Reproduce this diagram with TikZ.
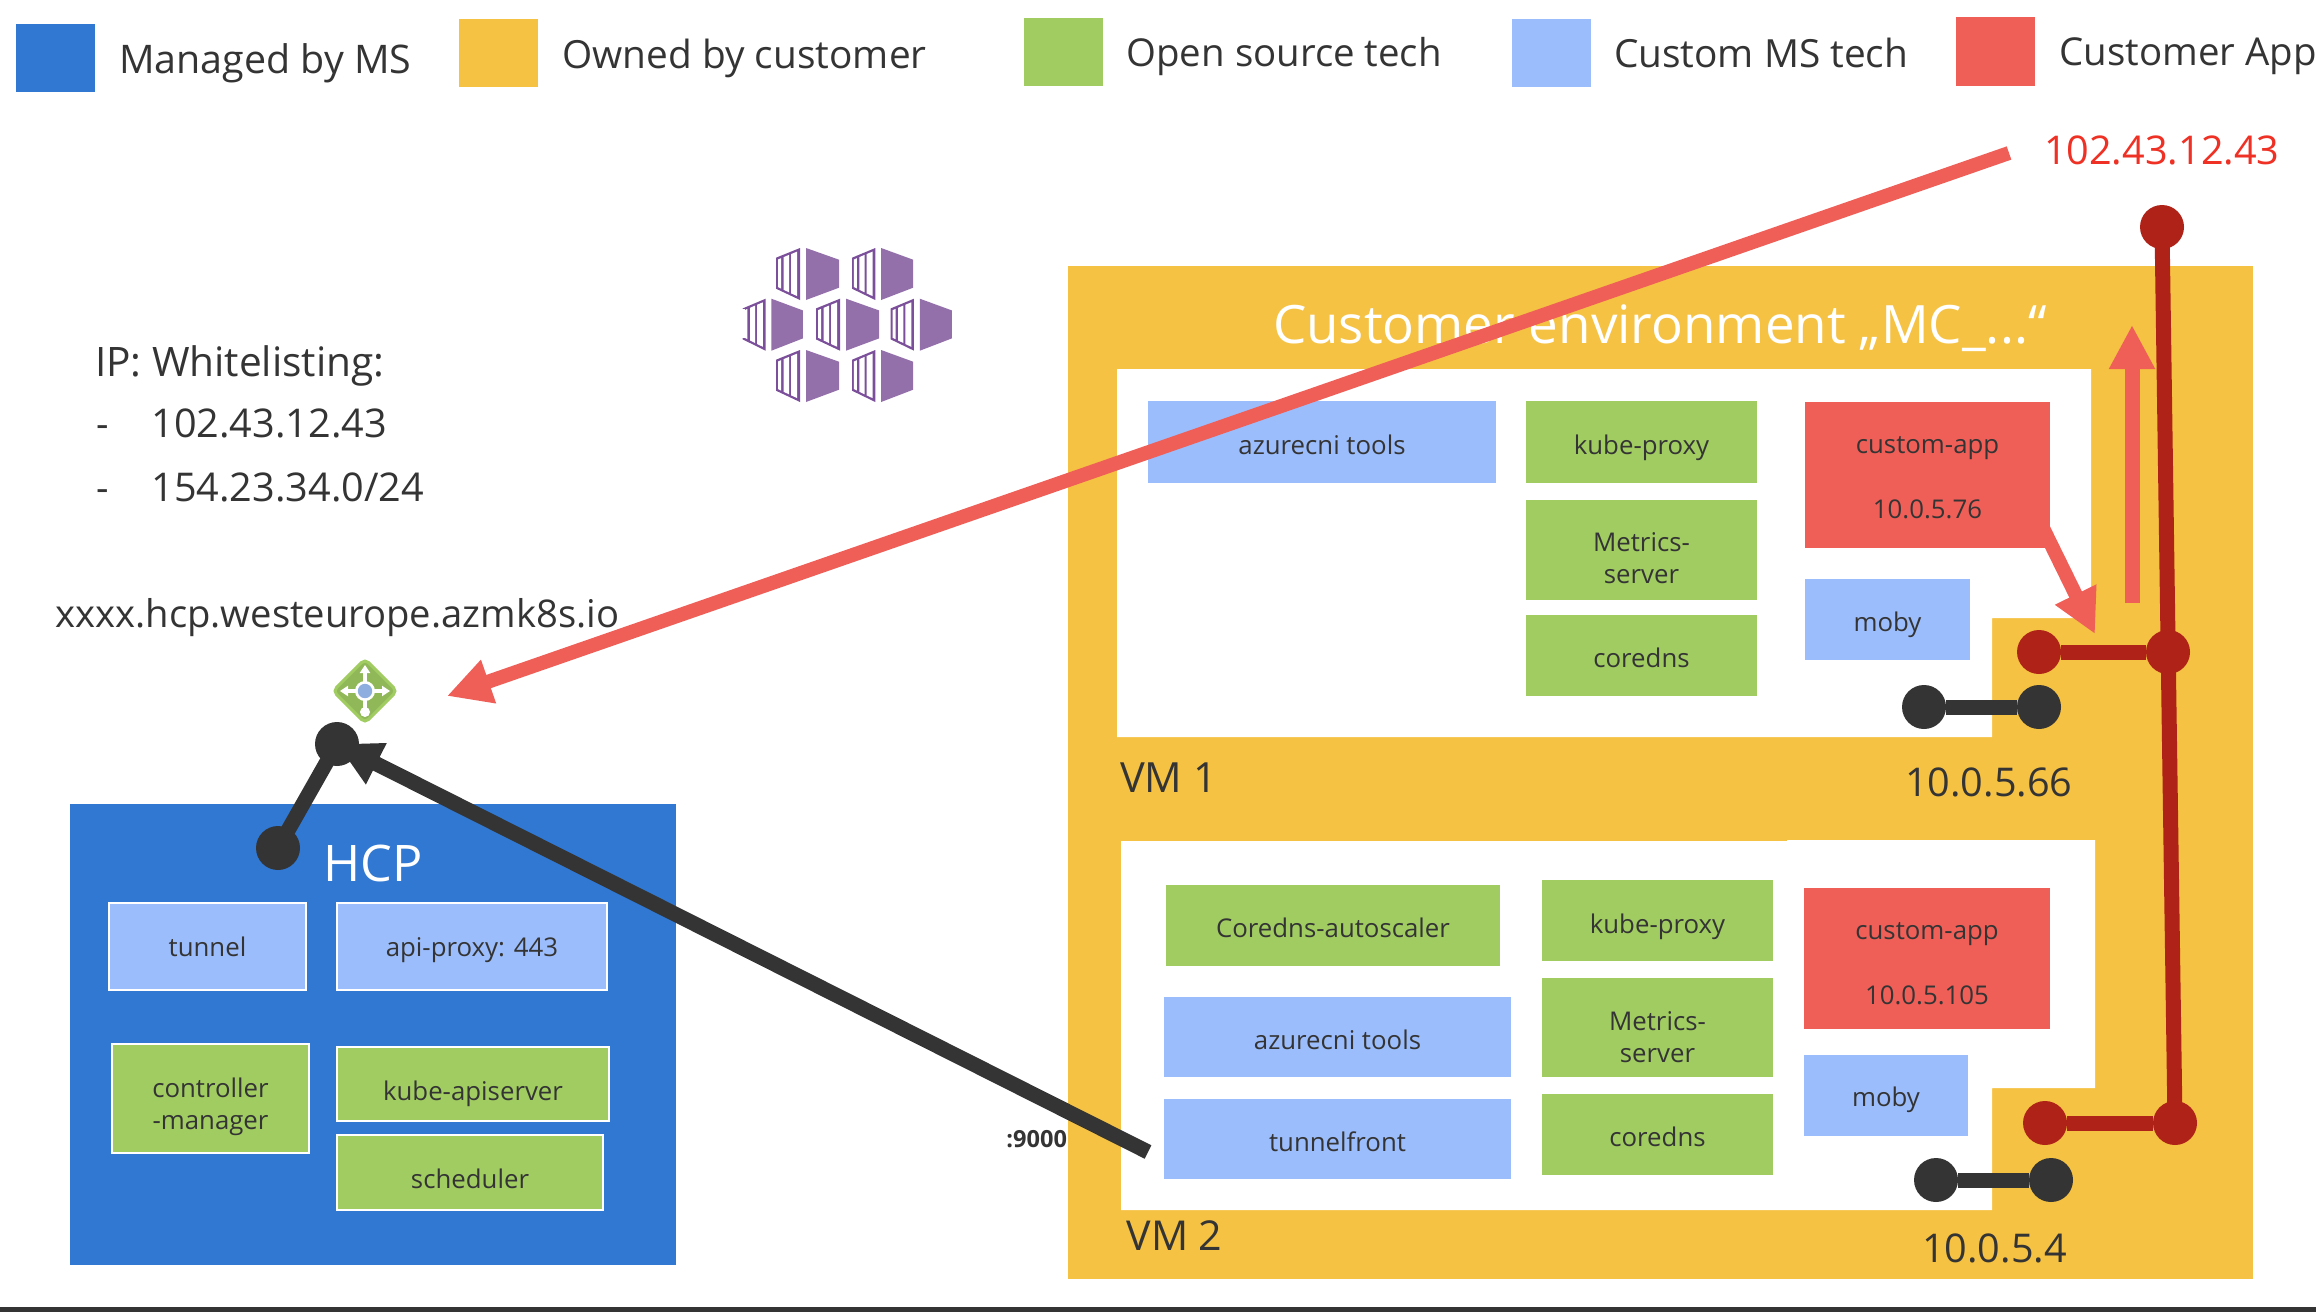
\documentclass[tikz,border=0pt]{standalone}
\usepackage{fontspec}
\setmainfont{Open Sans}
\usetikzlibrary{arrows.meta}
\definecolor{msblue}{HTML}{3078D2}
\definecolor{ownorange}{HTML}{F5C243}
\definecolor{osgreen}{HTML}{A1CC62}
\definecolor{custblue}{HTML}{9CBDFB}
\definecolor{appred}{HTML}{EF5F58}
\definecolor{deepred}{HTML}{AF2218}
\definecolor{inkdark}{HTML}{343434}
\definecolor{ipred}{HTML}{EE3124}
\definecolor{kpurple}{HTML}{9470AA}
\definecolor{kframe}{HTML}{7B4F9A}
\tikzset{
  boxnode/.style={draw=white,line width=0.6pt,inner sep=0pt,outer sep=0pt,align=center,text=inkdark,
     font=\fontsize{12.9}{16}\selectfont},
  legendbox/.style={inner sep=0pt,outer sep=0pt},
  sz/.style={font=\fontsize{#1}{22}\selectfont},
  txt/.style={anchor=base west,inner sep=0pt,outer sep=0pt,text=inkdark,sz=19.4},
  bigwhite/.style={anchor=base west,inner sep=0pt,outer sep=0pt,text=white,sz=25.2},
  dotred/.style={circle,fill=deepred,inner sep=0pt,outer sep=0pt,minimum size=22pt},
  dotdark/.style={circle,fill=inkdark,inner sep=0pt,outer sep=0pt,minimum size=22pt},
  wirered/.style={draw=deepred,line width=7.5pt},
  wiredark/.style={draw=inkdark,line width=7.5pt},
  arrowred/.style={draw=appred,line width=7pt,-{Triangle[length=22pt,width=21.5pt,fill=appred]}},
  arrowdark/.style={draw=inkdark,line width=7.5pt,-{Triangle[length=22pt,width=21.5pt,fill=inkdark]}},
  gatearrow/.style={draw=white,line width=1.7pt,-{Triangle[length=4pt,width=5pt]}},
  kubeunit/.pic={
    \fill[kpurple] (30,0)--(63,11.7)--(63,39.7)--(30,52)--cycle;
    \fill[kframe] (0,9.7)--(24,0)--(24,52)--(0,40.7)--cycle;
    \fill[white] (2,11.5)--(5,10.2)--(5,40.5)--(2,39)--cycle;
    \fill[white] (7.7,9.1)--(13,6.9)--(13,44.3)--(7.7,41.8)--cycle;
    \fill[white] (15,6.1)--(21.2,3.6)--(21.2,48.1)--(15,45.3)--cycle;
  }
}
\newcommand{\bx}[8]{%
  \node[boxnode,fill=#6,minimum width={(#4-#2)*0.5pt},
        text height={(#7-#3)*0.5pt},text depth={(#5-#7)*0.5pt}] (#1)
        at ({(#2+#4)/2},{(#3+#5)/2}) {#8};}
\newcommand{\lgbox}[6]{%
  \node[legendbox,fill=#6,minimum width={(#4-#2)*0.5pt},minimum height={(#5-#3)*0.5pt}] (#1)
        at ({(#2+#4)/2},{(#3+#5)/2}) {};}
\begin{document}
\begin{tikzpicture}[x=0.5pt,y=-0.5pt]
\useasboundingbox (0,0) rectangle (2316,1312);
\fill[white] (0,0) rectangle (2316,1312);
\fill[inkdark] (0,1307) rectangle (2316,1312);

% legend
\lgbox{lgA}{16}{24}{95}{92}{msblue}
\lgbox{lgB}{459}{19}{538}{87}{ownorange}
\lgbox{lgC}{1024}{18}{1103}{86}{osgreen}
\lgbox{lgD}{1512}{19}{1591}{87}{custblue}
\lgbox{lgE}{1956}{17}{2035}{86}{appred}
\node[txt,sz=19.7] (lgtA) at (119,73) {Managed by MS};
\node[txt] (lgtB) at (562.5,68) {Owned by customer};
\node[txt,sz=19.2] (lgtC) at (1126.5,66) {Open source tech};
\node[txt] (lgtD) at (1614,67) {Custom MS tech};
\node[txt,sz=19.2] (lgtE) at (2059.5,65) {Customer App};

% whitelist text
\node[txt,sz=20.3] (ipA) at (95,376) {IP: Whitelisting:};
\node[txt] (ipB) at (96,437) {-};
\node[txt,sz=19.8] (ipC) at (151.5,437) {102.43.12.43};
\node[txt] (ipD) at (96,501) {-};
\node[txt,sz=19.8] (ipE) at (151.5,501) {154.23.34.0/24};
\node[txt,sz=19.1] (hcpurl) at (55.5,627) {xxxx.hcp.westeurope.azmk8s.io};

% kubernetes icon
\foreach \ux/\uy/\us in {776/248/1,852/248/0.97,742.7/298.7/0.955,816/298.7/1,890.7/298.7/0.97,776/350/1,852/350/0.97}
  \pic[xscale=\us] at (\ux,\uy) {kubeunit};
\fill[white] (742,308.5) rectangle (745,338);

% gateway icon
\draw[fill=osgreen!90!black,draw=osgreen,line width=1.5pt,rounded corners=2.5pt]
   (365,659) -- (397,691) -- (365,723) -- (333,691) -- cycle;
\coordinate (gc) at (365,691);
\coordinate (gu) at (365,665);
\coordinate (gl) at (340,691);
\coordinate (gr) at (390,691);
\coordinate (gd) at (365,712);
\draw[gatearrow] (gc) -- (gu);
\draw[gatearrow] (gc) -- (gl);
\draw[gatearrow] (gc) -- (gr);
\draw[draw=white,line width=1.7pt] (gc) -- (gd);
\fill[white] (gd) circle (2.5pt);
\fill[white] (gc) circle (5pt);
\fill[fill=cyan!50!blue!45!white] (gc) circle (3.6pt);

% HCP
\node[legendbox,fill=msblue,minimum width=303.25pt,minimum height=230.5pt] (hcp) at (372.75,1034.5) {};
\node[bigwhite] (hcpt) at (323,881) {HCP};
\bx{tunnel}{109}{903}{306}{990}{custblue}{956}{tunnel}
\bx{apiproxy}{337}{903}{607}{990}{custblue}{956}{api-proxy: 443}
\bx{ctrl}{112}{1044}{309}{1153}{osgreen}{1129}{controller\\-manager}
\bx{apiserver}{337}{1047}{609}{1121}{osgreen}{1100}{kube-apiserver}
\bx{sched}{337}{1135}{603}{1210}{osgreen}{1188}{scheduler}

% customer environment
\node[legendbox,fill=ownorange,minimum width=592.5pt,minimum height=506.5pt] (env) at (1660.5,772.5) {};
\node[bigwhite,sz=26.45] (envt) at (1273,343) {Customer environment „MC\_...“};
\fill[white] (1117,369) -- (2091,369) -- (2091,618) -- (1992,618) -- (1992,737) -- (1117,737) -- cycle;
\fill[white] (1121,841) -- (1787,841) -- (1787,840) -- (2095,840) -- (2095,1088) -- (1992,1088) -- (1992,1210) -- (1121,1210) -- cycle;
\node[txt,sz=20.8] (vmA) at (1120,792) {VM 1};
\node[txt,sz=20.6] (vmB) at (1126.5,1250) {VM 2};
\node[txt,sz=19.8] (ipvmA) at (1905,796) {10.0.5.66};
\node[txt,sz=19.8] (ipvmB) at (1922,1262) {10.0.5.4};

% small red arrow under the VM1 app box
\coordinate (saS) at (2042,526);
\coordinate (saE) at (2095,634);
\draw[arrowred] (saS) -- (saE);

\begin{scope}
\tikzset{boxnode/.append style={draw=none}}
% VM1 boxes
\bx{azA}{1148}{401}{1496}{483}{custblue}{454.6}{azurecni tools}
\bx{kpA}{1526}{401}{1757}{483}{osgreen}{454.6}{kube-proxy}
\bx{msA}{1526}{500}{1757}{600}{osgreen}{583.7}{Metrics-\\server}
\bx{cdA}{1526}{615}{1757}{696}{osgreen}{667}{coredns}
\bx{caA}{1805}{402}{2050}{548}{appred}{518}{custom-app\\[16.5pt]10.0.5.76}
\bx{mbA}{1805}{579}{1970}{660}{custblue}{631.5}{moby}

% VM2 boxes
\bx{caS}{1166}{885}{1500}{966}{osgreen}{937}{Coredns-autoscaler}
\bx{azB}{1164}{997}{1511}{1077}{custblue}{1049}{azurecni tools}
\bx{tf}{1164}{1099}{1511}{1179}{custblue}{1151}{tunnelfront}
\bx{kpB}{1542}{880}{1773}{961}{osgreen}{933}{kube-proxy}
\bx{msB}{1542}{978}{1773}{1077}{osgreen}{1062}{Metrics-\\server}
\bx{cdB}{1542}{1094}{1773}{1175}{osgreen}{1146}{coredns}
\bx{caB}{1804}{888}{2050}{1029}{appred}{1004}{custom-app\\[16.5pt]10.0.5.105}
\bx{mbB}{1804}{1055}{1968}{1136}{custblue}{1106}{moby}
\end{scope}

\node[anchor=base west,inner sep=0pt,text=inkdark,font=\bfseries\fontsize{11.8}{14}\selectfont] (port) at (1006,1147) {:9000};

% red up arrow
\coordinate (uaS) at (2132,603);
\coordinate (uaE) at (2132,325);
\draw[arrowred,line width=7.5pt] (uaS) -- (uaE);

% dark red network
\node[dotred] (rTop) at (2162,227) {};
\node[dotred] (rMidA) at (2168,652) {};
\node[dotred] (rLeftA) at (2039,652) {};
\node[dotred] (rMidB) at (2175,1123) {};
\node[dotred] (rLeftB) at (2045,1123) {};
\draw[wirered] (rTop.center) -- (rMidB.center);
\draw[wirered] (rLeftA) -- (rMidA);
\draw[wirered] (rLeftB) -- (rMidB);

% dark dots
\node[dotdark] (dA1) at (1924,707) {};
\node[dotdark] (dA2) at (2039,707) {};
\draw[wiredark] (dA1) -- (dA2);
\node[dotdark] (dB1) at (1936,1180) {};
\node[dotdark] (dB2) at (2051,1180) {};
\draw[wiredark] (dB1) -- (dB2);

% public IP and long arrow
\node[txt,sz=19.8,text=ipred] (pubip) at (2044,164) {102.43.12.43};
\coordinate (laS) at (2009,153);
\coordinate (laE) at (447,696);
\draw[arrowred] (laS) -- (laE);

% tunnel connection
\coordinate (tnS) at (1148,1152);
\node[dotdark] (tnTop) at (337,744) {};
\node[dotdark] (tnLow) at (278,848) {};
\draw[wiredark] (tnLow.center) -- (tnTop.center);
\draw[arrowdark] (tnS) -- (tnTop.center);
\end{tikzpicture}
\end{document}
